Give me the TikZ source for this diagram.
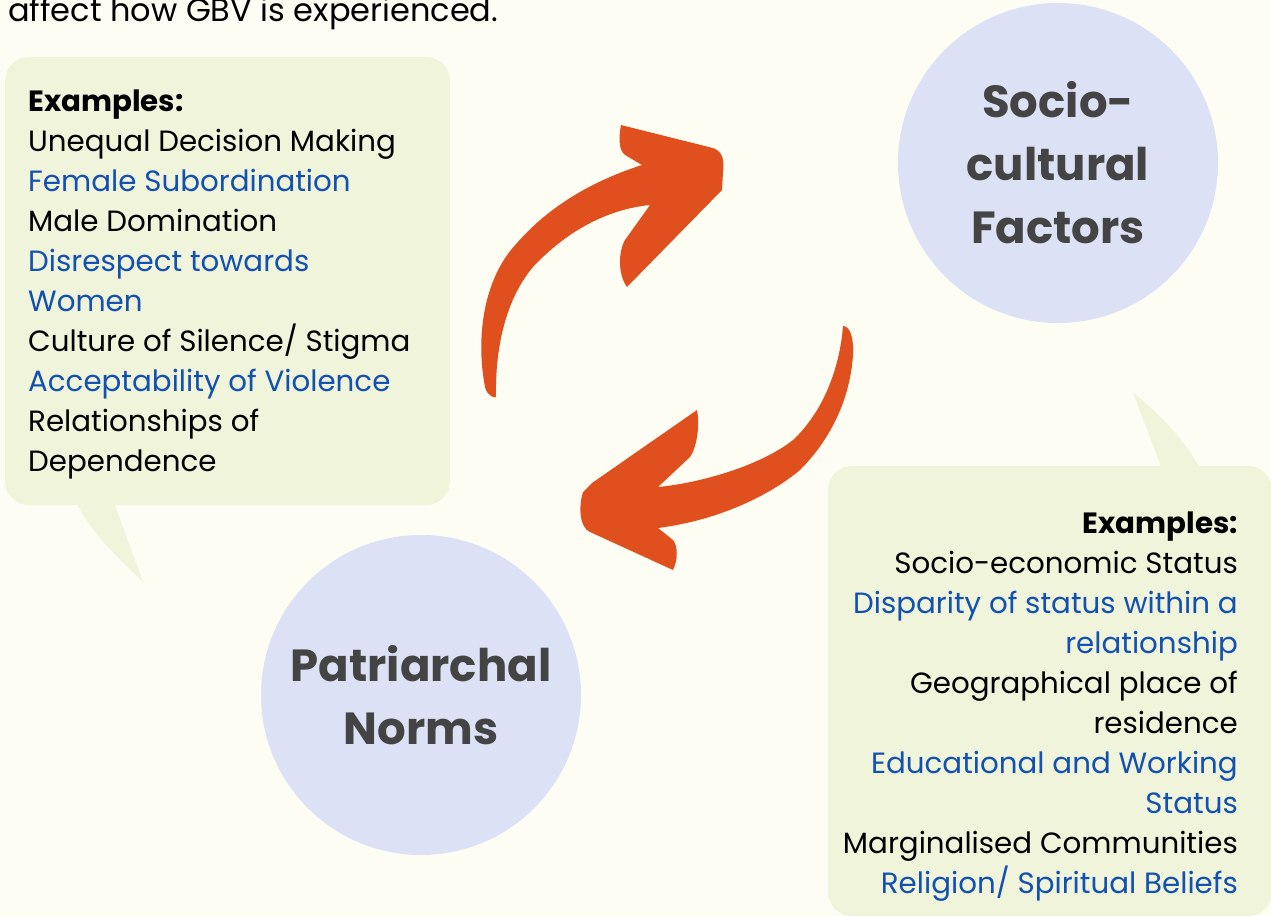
\documentclass[tikz,border=0pt]{standalone}
\usepackage{fontspec}
\setmainfont{Poppins}
\usetikzlibrary{positioning}
\definecolor{cream}{RGB}{253,253,243}
\definecolor{boxgreen}{RGB}{240,244,218}
\definecolor{circlelav}{RGB}{220,225,245}
\definecolor{arroworange}{RGB}{224,80,30}
\definecolor{listblue}{RGB}{18,80,178}
\definecolor{titlegray}{RGB}{68,68,68}
\tikzset{
  bubble/.style={fill=boxgreen, rounded corners=24pt},
  factor/.style={circle, fill=circlelav, minimum size=320pt, inner sep=0pt,
    align=center, text=titlegray, font=\fontsize{45}{63}\selectfont\bfseries},
  examples/.style={inner sep=0pt, font=\fontsize{29.3}{40}\selectfont},
  bendarrow/.style={fill=arroworange, draw=none}
}
\newcommand{\bl}[1]{\textcolor{listblue}{#1}}

\begin{document}
\begin{tikzpicture}[x=1pt,y=-1pt]
\useasboundingbox (0,0) rectangle (1271,916);
\fill[cream] (0,0) rectangle (1271,916);
%last line of the intro text, cut at the top
\node[anchor=base west, inner sep=0pt, font=\fontsize{32}{38}\selectfont] (intro) at (8,21) {affect how GBV is experienced.};
%left speech bubble and its tail
\fill[boxgreen] (75,500) .. controls (90,530) and (105,545) .. (143,582) -- (113,500) -- cycle;
\fill[bubble] (5,57) rectangle (450,505);
%right speech bubble and its tail
\fill[boxgreen] (1163,472) -- (1133,392) .. controls (1165,420) and (1185,440) .. (1202,472) -- cycle;
\fill[bubble] (828,466) rectangle (1272,916);
%the two factors
\node[factor] (socio) at (1058,163) {Socio-\\cultural\\Factors};
\node[factor] (norms) at (421,695) {Patriarchal\\Norms};
%curved arrow going up to the right
\fill[bendarrow] (485,387)
  .. controls (476,340) and (482,280) .. (517,243)
  .. controls (550,205) and (595,180) .. (642,165)
  -- (625,155) .. controls (618,150) and (619,135) .. (621,125)
  -- (713,148) .. controls (724,152) and (724,162) .. (723,172)
  -- (722,190) -- (627,287)
  .. controls (618,275) and (618,252) .. (625,240)
  -- (650,205)
  .. controls (600,210) and (560,238) .. (533,267)
  .. controls (505,300) and (495,350) .. (496,397)
  -- (493,397) .. controls (489,395) and (486,392) .. (485,387) -- cycle;
%curved arrow going down to the left
\fill[bendarrow] (843,326)
  .. controls (850,326) and (854,338) .. (853,355)
  .. controls (850,400) and (830,440) .. (800,470)
  .. controls (770,495) and (720,520) .. (658,528)
  -- (673,540) .. controls (678,546) and (678,560) .. (673,570)
  -- (590,532) .. controls (580,528) and (578,508) .. (583,492)
  -- (592,483) -- (697,410)
  .. controls (700,425) and (697,447) .. (690,457)
  -- (658,487)
  .. controls (700,483) and (760,466) .. (793,440)
  .. controls (825,410) and (840,365) .. (843,326) -- cycle;
%list of examples on the left (base is the last line)
\node[examples, anchor=base west, align=left] (leftlist) at (28,471) {%
  \textbf{Examples:}\\
  Unequal Decision Making\\
  \bl{Female Subordination}\\
  Male Domination\\
  \bl{Disrespect towards}\\
  \bl{Women}\\
  Culture of Silence/ Stigma\\
  \bl{Acceptability of Violence}\\
  Relationships of\\
  Dependence};
%list of examples on the right
\node[examples, anchor=base east, align=right] (rightlist) at (1238,893) {%
  \textbf{Examples:}\\
  Socio-economic Status\\
  \bl{Disparity of status within a}\\
  \bl{relationship}\\
  Geographical place of\\
  residence\\
  \bl{Educational and Working}\\
  \bl{Status}\\
  Marginalised Communities\\
  \bl{Religion/ Spiritual Beliefs}};
\end{tikzpicture}
\end{document}
